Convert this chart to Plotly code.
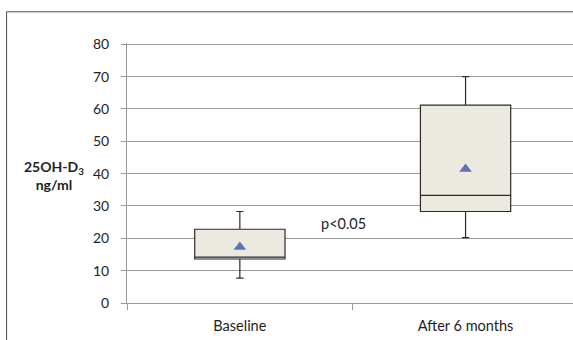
import plotly.graph_objects as go

categories = ["Baseline", "After 6 months"]
x_pos = [0, 1]
lower_whisker = [7.7, 20.2]
q1 = [13.6, 28.3]
median = [14.2, 33.3]
q3 = [22.8, 61.2]
upper_whisker = [28.3, 70.0]
means = [17.3, 41.4]
y_ticks = [0, 10, 20, 30, 40, 50, 60, 70, 80]
p_label = "p<0.05"
p_pos = (0.46, 24.5)

FONT = "Lato"
GRID = "#999999"
TEXT = "#1e1e1e"

fig = go.Figure()
fig.add_trace(go.Box(
    x=x_pos, q1=q1, median=median, q3=q3,
    lowerfence=lower_whisker, upperfence=upper_whisker,
    width=0.4, whiskerwidth=0.08,
    fillcolor="#eceae0", line=dict(color="#2b2b2b", width=1.2),
    boxpoints=False, showlegend=False, hoverinfo="skip",
))
fig.add_trace(go.Scatter(
    x=x_pos, y=means, mode="markers",
    marker=dict(symbol="triangle-up", size=11, color="#6470b4"),
    showlegend=False, hoverinfo="skip",
))

fig.add_annotation(x=p_pos[0], y=p_pos[1], text=p_label, showarrow=False,
                   font=dict(family=FONT, size=14.5, color=TEXT))
fig.add_annotation(xref="paper", yref="paper", x=-0.164, y=0.49, xanchor="center",
                   text="<b>25OH-D<sub>3</sub><br>ng/ml</b>", showarrow=False,
                   align="center", font=dict(family=FONT, size=14, color=TEXT))

# outer frame (cropped chart border)
fig.add_shape(type="line", xref="paper", yref="paper", x0=-0.27, x1=1.2, y0=1.12, y1=1.12,
              line=dict(color="#4a4a4a", width=1))
fig.add_shape(type="line", xref="paper", yref="paper", x0=-0.27, x1=-0.27, y0=1.12, y1=-0.3,
              line=dict(color="#4a4a4a", width=1))

fig.update_layout(
    width=573, height=340,
    margin=dict(l=127, r=0, t=43, b=37),
    paper_bgcolor="white", plot_bgcolor="white",
    font=dict(family=FONT, size=12, color=TEXT),
    xaxis=dict(
        range=[-0.5, 1.476], tickvals=x_pos, ticktext=categories,
        ticks="", showgrid=False, zeroline=False,
        showline=True, linecolor=GRID, linewidth=1,
        ticklabelstandoff=10, tickfont=dict(family=FONT, size=14.5, color=TEXT),
        minor=dict(tickvals=[-0.5, 0.5], ticks="outside", ticklen=6, tickcolor=GRID, showgrid=False),
    ),
    yaxis=dict(
        range=[0, 80.4], tickvals=y_ticks, showgrid=True, gridcolor=GRID, gridwidth=1,
        zeroline=False, showline=True, linecolor=GRID, linewidth=1,
        ticks="outside", ticklen=5, tickcolor=GRID, ticklabelstandoff=9,
        tickfont=dict(family=FONT, size=14, color=TEXT),
    ),
)

fig.write_html("out.html")
